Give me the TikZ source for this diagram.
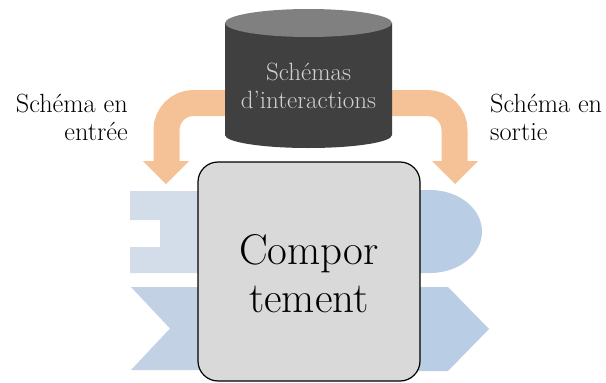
\documentclass[tikz,border=0pt]{standalone}
\definecolor{arrowor}{HTML}{F5C197}
\definecolor{cylbody}{HTML}{404040}
\definecolor{cyltop}{HTML}{808080}
\definecolor{cyltext}{HTML}{D0D0D0}
\definecolor{boxfill}{HTML}{D9D9D9}
\definecolor{portlightA}{HTML}{D3DDE9}
\definecolor{portlightB}{HTML}{C3D1E4}
\definecolor{portright}{HTML}{B9CDE5}
\tikzset{
  labeltext/.style={font=\fontsize{26.3}{28}\selectfont, inner sep=0pt},
  cyltextstyle/.style={font=\fontsize{25}{28}\selectfont, inner sep=0pt, text=cyltext, align=center},
  maintext/.style={font=\fontsize{43}{48}\selectfont, inner sep=0pt, align=center},
  behavbox/.style={draw=black, line width=1.2pt, fill=boxfill, rounded corners=20pt,
    minimum width=222pt, minimum height=219pt, inner sep=0pt},
  bandline/.style={draw=arrowor, line width=26pt, rounded corners=27pt},
}
\begin{document}
\begin{tikzpicture}[x=1pt,y=1pt]
\useasboundingbox (0,0) rectangle (606,-383);
% orange band and heads
\draw[bandline] (166.5,-162) -- (166.5,-103) -- (454.5,-103) -- (454.5,-162);
\fill[arrowor] (143,-161) -- (189,-161) -- (166,-184) -- cycle;
\fill[arrowor] (432,-161) -- (478,-161) -- (455,-184) -- cycle;
% cylinder
\fill[cylbody] (225,-23) -- (225,-135) arc[start angle=180,end angle=360,x radius=83.5,y radius=13] -- (392,-23) -- cycle;
\fill[cyltop] (308.5,-23) ellipse[x radius=83.5,y radius=14];
\node[cyltextstyle, anchor=north] (cyl) at (308.5,-62.6) {Schémas\\d’interactions};
% ports
\fill[portlightA] (130,-191) -- (260,-191) -- (260,-273) -- (130,-273) -- (130,-247) -- (160,-247) -- (160,-220) -- (130,-220) -- cycle;
\fill[portlightB] (131,-287) -- (260,-287) -- (260,-370) -- (131,-370) -- (170,-328.5) -- cycle;
\fill[portright] (360,-190) -- (430,-190) arc[start angle=90,end angle=-90,x radius=52,y radius=41.5] -- (360,-273) -- cycle;
\fill[portright] (360,-287) -- (448,-287) -- (489,-329) -- (448,-371) -- (360,-371) -- cycle;
% box
\node[behavbox] (comp) at (309,-271.5) {};
\node[maintext, anchor=north] (comptext) at (309,-234.7) {Compor\\tement};
% labels
\node[labeltext, align=right, anchor=north east] (inlabel) at (128,-93.8) {Schéma en\\entrée};
\node[labeltext, align=left, anchor=north west] (outlabel) at (490,-93.8) {Schéma en\\sortie};
\end{tikzpicture}
\end{document}
